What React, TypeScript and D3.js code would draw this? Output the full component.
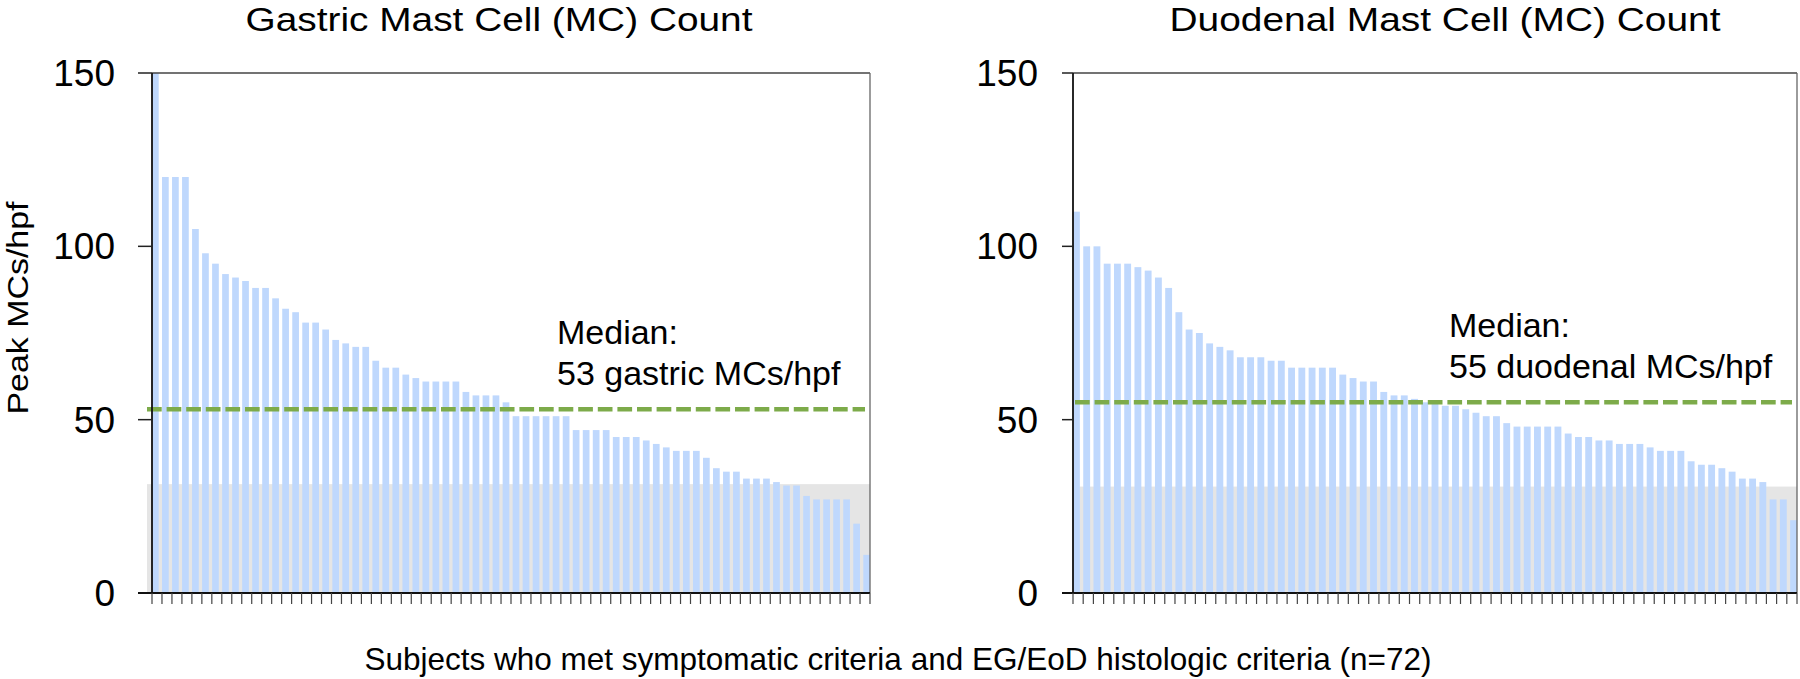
import React, { useEffect, useRef } from 'react';
import * as d3 from 'd3';

// peak mast cells per hpf, one value per subject, sorted high to low
const gastricCounts = [
  150, 120, 120, 120, 105, 98, 95, 92, 91, 90,
  88, 88, 85, 82, 81, 78, 78, 76, 73, 72,
  71, 71, 67, 65, 65, 63, 62, 61, 61, 61,
  61, 58, 57, 57, 57, 55, 51, 51, 51, 51,
  51, 51, 47, 47, 47, 47, 45, 45, 45, 44,
  43, 42, 41, 41, 41, 39, 36, 35, 35, 33,
  33, 33, 32, 31, 31, 28, 27, 27, 27, 27,
  20, 11,
];
const duodenalCounts = [
  110, 100, 100, 95, 95, 95, 94, 93, 91, 88,
  81, 76, 75, 72, 71, 70, 68, 68, 68, 67,
  67, 65, 65, 65, 65, 65, 63, 62, 61, 61,
  58, 57, 57, 56, 55, 55, 54, 54, 53, 52,
  51, 51, 49, 48, 48, 48, 48, 48, 46, 45,
  45, 44, 44, 43, 43, 43, 42, 41, 41, 41,
  38, 37, 37, 36, 35, 33, 33, 32, 27, 27,
  21,
];
const yTicks = [0, 50, 100, 150];
const panelTitles = ['Gastric Mast Cell (MC) Count', 'Duodenal Mast Cell (MC) Count'];
const medianValues = [53, 55];
const medianLabels = ['53 gastric MCs/hpf', '55 duodenal MCs/hpf'];
const normalLimits = [31.4, 30.7];
const yAxisLabel = 'Peak MCs/hpf';
const xAxisLabel = 'Subjects who met symptomatic criteria and EG/EoD histologic criteria (n=72)';

const W = 1800;
const H = 679;
const plotTop = 73;
const plotBottom = 593;
const font = '"Liberation Sans", Arial, sans-serif';

const layout = [
  { x0: 152, x1: 870, bandX: 147, lineX0: 147, lineX1: 865, tickX: 138, labelX: 115, titleX: 499, titleLen: 507, noteX: 557, noteY: 344 },
  { x0: 1073, x1: 1797, bandX: 1073, lineX0: 1075, lineX1: 1792, tickX: 1062, labelX: 1038, titleX: 1445, titleLen: 551, noteX: 1449, noteY: 337 },
];

const App = () => {
  const ref = useRef<SVGSVGElement>(null);

  useEffect(() => {
    const svg = d3.select(ref.current);
    svg.selectAll('*').remove();

    const y = d3.scaleLinear().domain([0, 150]).range([plotBottom, plotTop]);
    const series = [gastricCounts, duodenalCounts];

    series.forEach((values, p) => {
      const L = layout[p];
      const g = svg.append('g');
      const x = d3.scaleBand<number>()
        .domain(d3.range(values.length))
        .range([L.x0, L.x1])
        .paddingInner(0.33)
        .paddingOuter(0);
      const xt = d3.scaleLinear().domain([0, values.length]).range([L.x0, L.x1]);

      // grey band = normal range
      g.append('rect')
        .attr('x', L.bandX)
        .attr('y', y(normalLimits[p]))
        .attr('width', L.x1 - L.bandX)
        .attr('height', plotBottom - y(normalLimits[p]))
        .attr('fill', '#e5e5e5');

      g.selectAll('rect.bar')
        .data(values)
        .enter()
        .append('rect')
        .attr('class', 'bar')
        .attr('x', (d, i) => x(i) as number)
        .attr('y', d => y(d))
        .attr('width', x.bandwidth())
        .attr('height', d => plotBottom - y(d))
        .attr('fill', '#bfd8fd');

      // median line
      g.append('line')
        .attr('x1', L.lineX0)
        .attr('x2', L.lineX1)
        .attr('y1', y(medianValues[p]))
        .attr('y2', y(medianValues[p]))
        .attr('stroke', '#7dab4a')
        .attr('stroke-width', 4.5)
        .attr('stroke-dasharray', '14.7 4.9');

      // frame
      g.append('line')
        .attr('x1', L.x0).attr('x2', L.x1)
        .attr('y1', plotTop).attr('y2', plotTop)
        .attr('stroke', '#444').attr('stroke-width', 1.3);
      g.append('line')
        .attr('x1', L.x1).attr('x2', L.x1)
        .attr('y1', plotTop).attr('y2', plotBottom)
        .attr('stroke', '#666').attr('stroke-width', 1.3);

      // y axis
      g.append('line')
        .attr('x1', L.x0).attr('x2', L.x0)
        .attr('y1', plotTop).attr('y2', plotBottom)
        .attr('stroke', '#111').attr('stroke-width', 1.8);
      yTicks.forEach(t => {
        g.append('line')
          .attr('x1', L.tickX).attr('x2', L.x0)
          .attr('y1', y(t)).attr('y2', y(t))
          .attr('stroke', '#222').attr('stroke-width', 1.5);
        g.append('text')
          .attr('x', L.labelX)
          .attr('y', y(t))
          .attr('dy', '0.35em')
          .attr('text-anchor', 'end')
          .style('font-family', font)
          .style('font-size', '37px')
          .attr('fill', '#000')
          .text(t);
      });

      // x axis
      g.append('line')
        .attr('x1', L.tickX).attr('x2', L.x1)
        .attr('y1', plotBottom).attr('y2', plotBottom)
        .attr('stroke', '#111').attr('stroke-width', 1.8);
      g.selectAll('line.xtick')
        .data(d3.range(values.length + 1))
        .enter()
        .append('line')
        .attr('class', 'xtick')
        .attr('x1', d => xt(d)).attr('x2', d => xt(d))
        .attr('y1', plotBottom).attr('y2', plotBottom + 11)
        .attr('stroke', '#444').attr('stroke-width', 1.2);

      // title
      g.append('text')
        .attr('x', L.titleX)
        .attr('y', 31)
        .attr('text-anchor', 'middle')
        .attr('textLength', L.titleLen)
        .attr('lengthAdjust', 'spacingAndGlyphs')
        .style('font-family', font)
        .style('font-size', '34px')
        .text(panelTitles[p]);

      // median note
      const note = g.append('text')
        .attr('x', L.noteX)
        .attr('y', L.noteY)
        .style('font-family', font)
        .style('font-size', '34px');
      note.append('tspan').attr('x', L.noteX).text('Median:');
      note.append('tspan').attr('x', L.noteX).attr('dy', 41).text(medianLabels[p]);
    });

    svg.append('text')
      .attr('transform', `translate(28,308) rotate(-90)`)
      .attr('text-anchor', 'middle')
      .attr('textLength', 213)
      .attr('lengthAdjust', 'spacingAndGlyphs')
      .style('font-family', font)
      .style('font-size', '29px')
      .text(yAxisLabel);

    svg.append('text')
      .attr('x', 898)
      .attr('y', 670)
      .attr('text-anchor', 'middle')
      .style('font-family', font)
      .style('font-size', '31.5px')
      .text(xAxisLabel);
  }, []);

  return (
    <svg
      ref={ref}
      width={W}
      height={H}
      style={{ position: 'absolute', left: 0, top: 0, background: '#fff' }}
    />
  );
};

export default App;
